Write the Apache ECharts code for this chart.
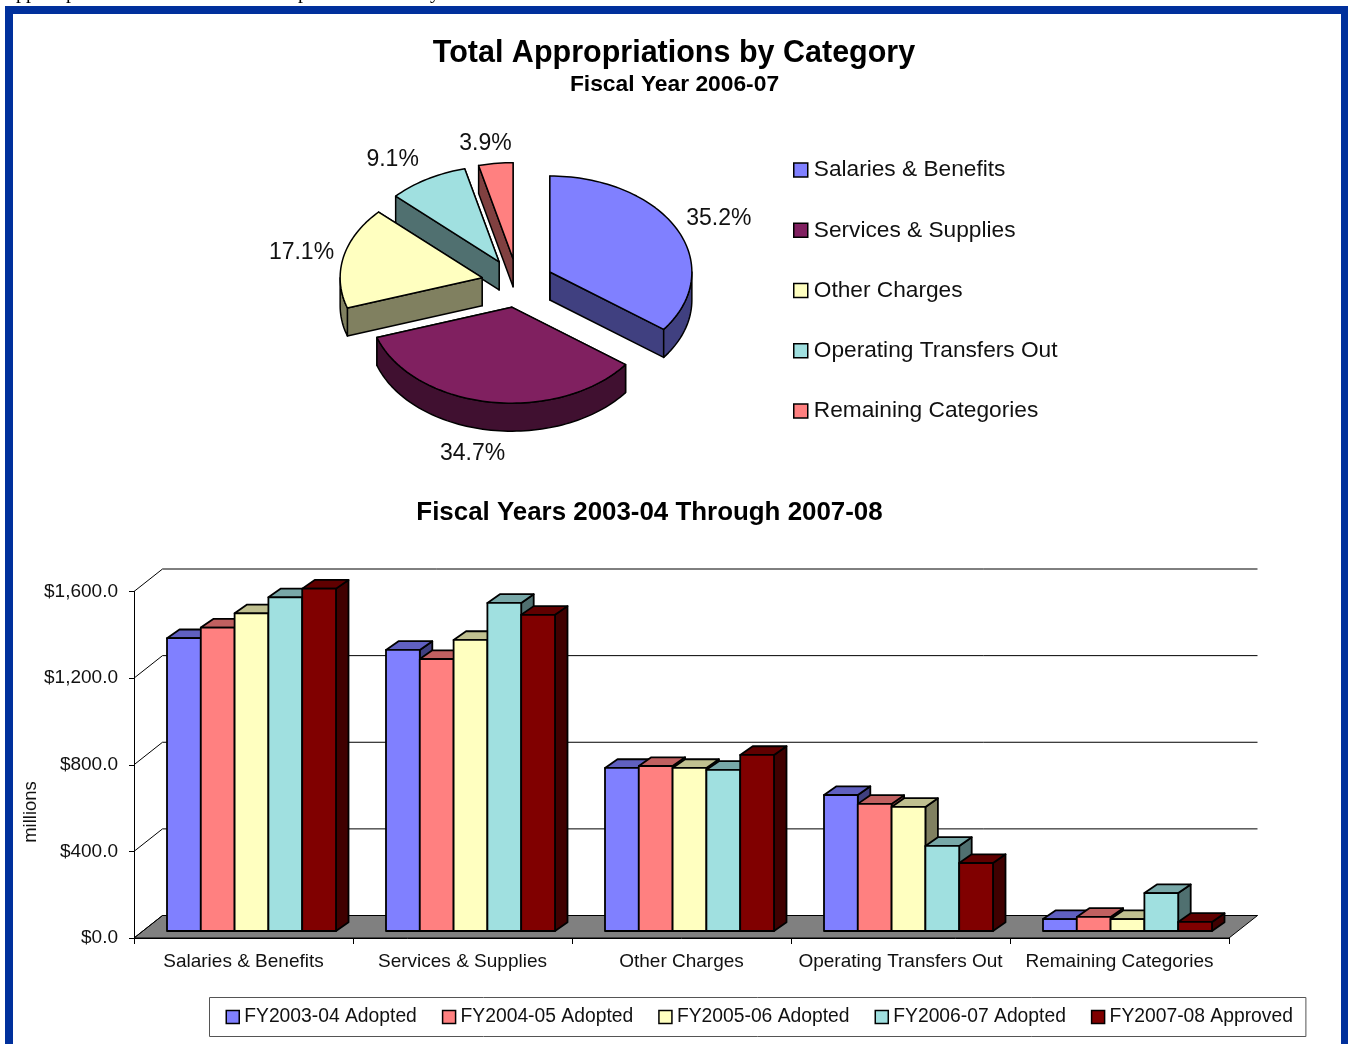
<!DOCTYPE html>
<html>
<head>
<meta charset="utf-8">
<title>Total Appropriations by Category</title>
<script src="https://cdn.jsdelivr.net/npm/echarts@6/dist/echarts.min.js"></script>
<style>
  html, body { margin: 0; padding: 0; background: #fff; overflow: hidden; }
  #chart { width: 1348px; height: 1044px; }
</style>
</head>
<body>
<div id="chart"></div>
<script>
// Share of the FY 2006-07 budget, percent, clockwise from twelve o'clock
const sliceNames = ['Salaries & Benefits', 'Services & Supplies', 'Other Charges', 'Operating Transfers Out', 'Remaining Categories'];
const sliceShares = [35.2, 34.7, 17.1, 9.1, 3.9];

// Five-year appropriations, $ millions
const categories = ['Salaries & Benefits', 'Services & Supplies', 'Other Charges', 'Operating Transfers Out', 'Remaining Categories'];
const fy0304 = [1352, 1298, 753, 628, 55];
const fy0405 = [1401, 1256, 762, 587, 65];
const fy0506 = [1467, 1344, 753, 573, 55];
const fy0607 = [1541, 1515, 744, 393, 175];
const fy0708 = [1581, 1460, 813, 314, 42];
const yearNames = ['FY2003-04 Adopted', 'FY2004-05 Adopted', 'FY2005-06 Adopted', 'FY2006-07 Adopted', 'FY2007-08 Approved'];
const yearValues = [fy0304, fy0405, fy0506, fy0607, fy0708];
const yTicks = [0, 400, 800, 1200, 1600];
const strayWords = ['pp', 'p', 'p', 'y'];

// Palette: face, top of a column, dark side
const palette = {
  blue:   ['#8080FF', '#6060C0', '#404080'],
  pink:   ['#FF8080', '#C06060', '#804040'],
  yellow: ['#FFFFC0', '#C0C090', '#808060'],
  teal:   ['#A0E0E0', '#78A8A8', '#507070'],
  maroon: ['#800000', '#600000', '#400000'],
  plum:   ['#802060', '#601848', '#401030']
};
const sliceColors = [palette.blue, palette.plum, palette.yellow, palette.teal, palette.pink];
const yearColors = [palette.blue, palette.pink, palette.yellow, palette.teal, palette.maroon];

// Projection used by the tilted pie
const pie = { cx: 517.5, cy: 283, rx: 142, ry: 96, depth: 28, explode: 0.255, labelReach: 1.5 };
const labelNudge = [[11, 0], [-11, 29], [-8, 1], [-17, 1], [-6, 4]];

// Projection used by the column chart's floor and columns
const wall = { dx: 28.5, dy: -22.5 };
const column = { width: 33.8, dx: 12.5, dy: -8.7, floorX: 8, floorY: -7 };
const sans = '"Liberation Sans", Arial, sans-serif';
const ink = '#111';

function polar(a, scale, ox, oy) {
  return [ox + scale * pie.rx * Math.sin(a), oy - scale * pie.ry * Math.cos(a)];
}

function arcPoints(from, to, ox, oy) {
  const n = Math.max(2, Math.ceil((to - from) / 0.03));
  const pts = [];
  for (let i = 0; i <= n; i++) pts.push(polar(from + (to - from) * i / n, 1, ox, oy));
  return pts;
}

function poly(points, fill) {
  return {
    type: 'polygon',
    shape: { points },
    style: { fill, stroke: '#000', lineWidth: 1.5, lineJoin: 'round' }
  };
}

// One exploded wedge: radial walls, rim wall, then the top face
function renderSlice(index) {
  return function (params, api) {
    const total = sliceShares.reduce((s, v) => s + v, 0);
    const before = sliceShares.slice(0, index).reduce((s, v) => s + v, 0);
    const share = api.value(0);
    const a0 = before / total * Math.PI * 2;
    const a1 = (before + share) / total * Math.PI * 2;
    const mid = (a0 + a1) / 2;
    const [ox, oy] = polar(mid, pie.explode, pie.cx, pie.cy);
    const colors = sliceColors[index];
    const d = pie.depth;
    const down = p => [p[0], p[1] + d];
    const rimStart = polar(a0, 1, ox, oy);
    const rimEnd = polar(a1, 1, ox, oy);
    const children = [
      poly([[ox, oy], rimEnd, down(rimEnd), [ox, oy + d]], colors[2]),
      poly([[ox, oy], rimStart, down(rimStart), [ox, oy + d]], colors[2])
    ];
    const v0 = Math.max(a0, Math.PI / 2);
    const v1 = Math.min(a1, Math.PI * 1.5);
    if (v1 > v0) {
      const rim = arcPoints(v0, v1, ox, oy);
      children.push(poly(rim.concat(rim.map(down).reverse()), colors[2]));
    }
    children.push(poly([[ox, oy]].concat(arcPoints(a0, a1, ox, oy)), colors[0]));
    const at = polar(mid, pie.labelReach, pie.cx, pie.cy);
    children.push({
      type: 'text',
      z2: 10,
      style: {
        text: share.toFixed(1) + '%',
        x: at[0] + labelNudge[index][0],
        y: at[1] + labelNudge[index][1],
        align: 'center',
        verticalAlign: 'middle',
        font: '23px ' + sans,
        fill: ink
      }
    });
    return { type: 'group', children };
  };
}

// Floor, back-wall gridlines and side-wall diagonals
function renderWall(params, api) {
  const sys = params.coordSys;
  const y = api.coord([0, api.value(1)])[1];
  const left = sys.x;
  const right = sys.x + sys.width;
  const line = (x1, y1, x2, y2) => ({
    type: 'line',
    shape: { x1, y1, x2, y2 },
    style: { stroke: '#000', lineWidth: 1 }
  });
  const children = [];
  if (api.value(1) === 0) {
    children.push({
      type: 'polygon',
      shape: { points: [[left, y], [right, y], [right + wall.dx, y + wall.dy], [left + wall.dx, y + wall.dy]] },
      style: { fill: '#808080', stroke: '#000', lineWidth: 1 }
    });
  }
  children.push(line(left + wall.dx, y + wall.dy, right + wall.dx, y + wall.dy));
  children.push(line(left, y, left + wall.dx, y + wall.dy));
  return { type: 'group', children };
}

// A single shaded column inside its category group
function renderColumn(seriesIndex) {
  return function (params, api) {
    const center = api.coord([api.value(0), 0]);
    const top = api.coord([api.value(0), api.value(1)]);
    const groupLeft = center[0] + column.floorX - column.width * yearNames.length / 2;
    const x0 = groupLeft + seriesIndex * column.width;
    const x1 = x0 + column.width;
    const yBase = center[1] + column.floorY;
    const yTop = top[1] + column.floorY;
    const colors = yearColors[seriesIndex];
    const st = fill => ({ fill, stroke: '#000', lineWidth: 1.8, lineJoin: 'round' });
    const dx = column.dx;
    const dy = column.dy;
    return {
      type: 'group',
      children: [
        { type: 'polygon', shape: { points: [[x1, yTop], [x1 + dx, yTop + dy], [x1 + dx, yBase + dy], [x1, yBase]] }, style: st(colors[2]) },
        { type: 'polygon', shape: { points: [[x0, yTop], [x0 + dx, yTop + dy], [x1 + dx, yTop + dy], [x1, yTop]] }, style: st(colors[1]) },
        { type: 'polygon', shape: { points: [[x0, yTop], [x1, yTop], [x1, yBase], [x0, yBase]] }, style: st(colors[0]) }
      ]
    };
  };
}

const series = [];
series.push({
  name: 'walls',
  type: 'custom',
  coordinateSystem: 'cartesian2d',
  z: 1,
  silent: true,
  renderItem: renderWall,
  data: yTicks.map(v => [0, v])
});
yearNames.forEach((name, i) => {
  series.push({
    name,
    type: 'custom',
    coordinateSystem: 'cartesian2d',
    z: 3 + i,
    itemStyle: { color: yearColors[i][0] },
    renderItem: renderColumn(i),
    data: yearValues[i].map((v, c) => [c, v])
  });
});
// Painted far wedges first so nearer walls overlap them
[4, 3, 2, 0, 1].forEach((sliceIndex, order) => {
  series.push({
    name: sliceNames[sliceIndex],
    type: 'custom',
    coordinateSystem: 'none',
    z: 3 + order,
    itemStyle: { color: sliceColors[sliceIndex][0] },
    renderItem: renderSlice(sliceIndex),
    data: [[sliceShares[sliceIndex]]]
  });
});

const strayLefts = [16, 66, 298, 430];

const option = {
  animation: false,
  backgroundColor: '#fff',
  title: [
    { text: 'Total Appropriations by Category', left: 674, top: 38, padding: 0, textAlign: 'center',
      textStyle: { fontFamily: sans, fontWeight: 'bold', fontSize: 30.5, color: '#000' } },
    { text: 'Fiscal Year 2006-07', left: 674.5, top: 73, padding: 0, textAlign: 'center',
      textStyle: { fontFamily: sans, fontWeight: 'bold', fontSize: 22.8, color: '#000' } },
    { text: 'Fiscal Years 2003-04 Through 2007-08', left: 649.5, top: 500, padding: 0, textAlign: 'center',
      textStyle: { fontFamily: sans, fontWeight: 'bold', fontSize: 25.9, color: '#000' } }
  ],
  legend: [
    { data: sliceNames, orient: 'vertical', left: 793, top: 158, padding: 0, itemGap: 36.25,
      itemWidth: 14, itemHeight: 14, icon: 'rect', selectedMode: false,
      itemStyle: { borderColor: '#000', borderWidth: 1.5 },
      textStyle: { fontFamily: sans, fontSize: 22.7, lineHeight: 24, color: ink, padding: [0, 0, 0, 1] } },
    { data: yearNames, orient: 'horizontal', left: 209.5, top: 997.5, padding: [10, 13, 10, 16], itemGap: 25,
      itemWidth: 13, itemHeight: 13, icon: 'rect', selectedMode: false,
      borderColor: '#555', borderWidth: 1,
      itemStyle: { borderColor: '#000', borderWidth: 1.5 },
      textStyle: { fontFamily: sans, fontSize: 19.3, color: ink, padding: [0, 0, 0, 0] } }
  ],
  grid: { left: 134, top: 591.5, width: 1095, height: 346.5, containLabel: false },
  xAxis: {
    type: 'category',
    data: categories,
    axisLine: { lineStyle: { color: '#000', width: 1 } },
    axisTick: { show: true, length: 6, lineStyle: { color: '#000' } },
    axisLabel: { interval: 0, margin: 14, fontFamily: sans, fontSize: 19, color: ink }
  },
  yAxis: {
    type: 'value',
    min: 0,
    max: 1600,
    interval: 400,
    splitLine: { show: false },
    axisLine: { show: true, lineStyle: { color: '#000', width: 1 } },
    axisTick: { show: true, length: 5, lineStyle: { color: '#000' } },
    axisLabel: {
      margin: 16,
      fontFamily: sans,
      fontSize: 19,
      color: ink,
      formatter: v => '$' + v.toLocaleString('en-US') + '.0'
    }
  },
  graphic: [
    { type: 'text', rotation: Math.PI / 2, x: 31, y: 812, z: 50,
      style: { text: 'millions', font: '18.5px ' + sans, fill: ink, align: 'center', verticalAlign: 'middle' } }
  ].concat(strayWords.map((w, i) => ({
    type: 'text', x: strayLefts[i], y: 2.3, z: 40,
    style: { text: w, font: '20px "Liberation Serif", serif', fill: '#000', align: 'left', verticalAlign: 'bottom' }
  }))).concat([
    { type: 'rect', z: 60, shape: { x: 5, y: 6, width: 1343, height: 8 }, style: { fill: '#00309C' } },
    { type: 'rect', z: 60, shape: { x: 5, y: 6, width: 8, height: 1038 }, style: { fill: '#00309C' } },
    { type: 'rect', z: 60, shape: { x: 1341, y: 6, width: 7, height: 1038 }, style: { fill: '#00309C' } }
  ]),
  series
};

const chart = echarts.init(document.getElementById('chart'), null, { renderer: 'canvas' });
chart.setOption(option);
</script>
</body>
</html>
